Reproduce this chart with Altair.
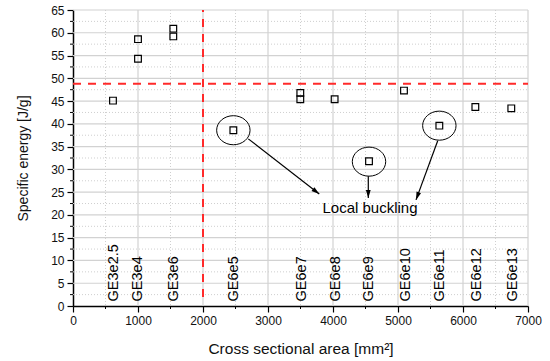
import altair as alt
import pandas as pd

# ---- data ----
area = [615, 1000, 1000, 1543, 1543, 2467, 3497, 3497, 4025, 4554, 5092, 5636, 6190, 6743]
energy = [45.1, 58.6, 54.3, 60.9, 59.2, 38.6, 46.8, 45.4, 45.4, 31.8, 47.3, 39.6, 43.7, 43.4]

spec_names = ["GE3e2.5", "GE3e4", "GE3e6", "GE6e5", "GE6e7", "GE6e8", "GE6e9",
              "GE6e10", "GE6e11", "GE6e12", "GE6e13"]
spec_x = [630, 1000, 1550, 2480, 3520, 4040, 4550, 5130, 5650, 6210, 6770]
spec_y = [1, 1, 1, 1, 1, 1, 1, 1, 1, 1, 1]

circ_x = [2467, 4554, 5636]
circ_y = [38.6, 31.7, 39.6]

arrow_x1 = [2697, 4543, 5611]
arrow_y1 = [36.7, 28.5, 36.3]
arrow_x2 = [3789, 4543, 5277]
arrow_y2 = [24.6, 23.7, 23.3]

note_text = ["Local buckling"]
note_x = [4569]
note_y = [21.5]

vline_x = [2000]
vline_y = [2, 65]
hline_y = [48.8]
hline_x = [0, 7000]

major_x = [0, 1000, 2000, 3000, 4000, 5000, 6000, 7000]
minor_x = [500, 1500, 2500, 3500, 4500, 5500, 6500]
major_y = [0, 5, 10, 15, 20, 25, 30, 35, 40, 45, 50, 55, 60, 65]
minor_y = [2.5, 7.5, 12.5, 17.5, 22.5, 27.5, 32.5, 37.5, 42.5, 47.5, 52.5, 57.5, 62.5]

x_title = "Cross sectional area [mm²]"
y_title = "Specific energy [J/g]"

# styles
arrow_angles = [127.8, 180, 200.1]
W, H = 455, 296
FONT = "Liberation Sans"

xs = alt.Scale(domain=[0, 7000], nice=False, zero=False)
ys = alt.Scale(domain=[0, 65], nice=False, zero=False)

ax_x = alt.Axis(values=major_x, grid=False, format="d", title=x_title,
                labelOverlap=False, labelFlush=False,
                titleFontSize=15.5, titlePadding=15)
ax_y = alt.Axis(values=major_y, grid=False, title=y_title, labelOverlap=False,
                labelFlush=False, titleFontSize=14, titlePadding=20)


def X(field):
    return alt.X(field, scale=xs, axis=ax_x)


def Y(field):
    return alt.Y(field, scale=ys, axis=ax_y)


pts = pd.DataFrame({"x": area, "y": energy})
specs = pd.DataFrame({"x": spec_x, "y": spec_y, "name": spec_names})
circ = pd.DataFrame({"x": circ_x, "y": circ_y})
arr = pd.DataFrame({"x": arrow_x1, "y": arrow_y1, "x2": arrow_x2, "y2": arrow_y2,
                    "angle": arrow_angles})
note = pd.DataFrame({"x": note_x, "y": note_y, "t": note_text})

gmx = pd.DataFrame({"x": major_x[1:]})
gmy = pd.DataFrame({"y": major_y[1:]})
gnx = pd.DataFrame({"x": minor_x})
gny = pd.DataFrame({"y": minor_y})

grid_major_v = alt.Chart(gmx).mark_rule(color="#d2d2d2", strokeWidth=1.2).encode(
    x=X("x:Q"), y=alt.value(0), y2=alt.value(H))
grid_major_h = alt.Chart(gmy).mark_rule(color="#d2d2d2", strokeWidth=1.2).encode(
    y=Y("y:Q"), x=alt.value(0), x2=alt.value(W))
grid_minor_v = alt.Chart(gnx).mark_rule(color="#cfcfcf", strokeWidth=1, strokeDash=[1, 2]).encode(
    x=X("x:Q"), y=alt.value(0), y2=alt.value(H))
grid_minor_h = alt.Chart(gny).mark_rule(color="#cfcfcf", strokeWidth=1, strokeDash=[1, 2]).encode(
    y=Y("y:Q"), x=alt.value(0), x2=alt.value(W))

minor_tick_y = alt.Chart(gny).mark_rule(color="black", strokeWidth=1).encode(
    y=Y("y:Q"), x=alt.value(-3), x2=alt.value(0))
minor_tick_x = alt.Chart(gnx).mark_rule(color="black", strokeWidth=1).encode(
    x=X("x:Q"), y=alt.value(H), y2=alt.value(H + 3))

vline = alt.Chart(pd.DataFrame({"x": vline_x, "y": [vline_y[0]], "y2": [vline_y[1]]})).mark_rule(
    color="#ff2a2a", strokeWidth=2, strokeDash=[8, 7]).encode(
    x=X("x:Q"), y=Y("y:Q"), y2="y2:Q")
hline = alt.Chart(pd.DataFrame({"y": hline_y, "x": [hline_x[0]], "x2": [hline_x[1]]})).mark_rule(
    color="#ff2a2a", strokeWidth=2, strokeDash=[8, 7]).encode(
    y=Y("y:Q"), x=X("x:Q"), x2="x2:Q")

points = alt.Chart(pts).mark_point(shape="square", filled=False, color="black",
                                   size=45, strokeWidth=1.2, opacity=1).encode(
    x=X("x:Q"), y=Y("y:Q"))

labels = alt.Chart(specs).mark_text(angle=270, align="left", baseline="middle",
                                    font=FONT, fontSize=14.5, color="black").encode(
    x=X("x:Q"), y=Y("y:Q"), text="name:N")

ellipses = alt.Chart(circ).mark_point(
    shape="M-1,0A1,0.87,0,1,0,1,0A1,0.87,0,1,0,-1,0Z",
    filled=False, color="black", size=1116, strokeWidth=1, opacity=1).encode(
    x=X("x:Q"), y=Y("y:Q"))

arrow_lines = alt.Chart(arr).mark_rule(color="black", strokeWidth=1.2).encode(
    x=X("x:Q"), y=Y("y:Q"), x2="x2:Q", y2="y2:Q")

arrow_heads = alt.Chart(arr).mark_point(
    shape="M0,0L0.6,2L-0.6,2Z", filled=True, color="black", size=64, opacity=1).encode(
    x=X("x2:Q"), y=Y("y2:Q"),
    angle=alt.Angle("angle:Q", scale=None))

note_mark = alt.Chart(note).mark_text(font=FONT, fontSize=15, color="black").encode(
    x=X("x:Q"), y=Y("y:Q"), text="t:N")

chart = alt.layer(
    grid_minor_v, grid_minor_h, grid_major_v, grid_major_h,
    minor_tick_y, minor_tick_x,
    vline, hline,
    points, labels, ellipses, arrow_lines, arrow_heads, note_mark,
).properties(
    width=W, height=H,
    autosize=alt.AutoSizeParams(type="none"),
    padding={"left": 73, "top": 10, "right": 22, "bottom": 55},
).configure_view(stroke=None).configure_axis(
    labelFont=FONT, titleFont=FONT, labelFontSize=12,
    titleFontWeight="normal", labelColor="#111", titleColor="#111",
    domainColor="black", domainWidth=1.5, tickColor="black", tickSize=6, tickWidth=1.2,
    labelPadding=3,
)

chart.save("out.html", embed_options={"renderer": "svg", "actions": False})
